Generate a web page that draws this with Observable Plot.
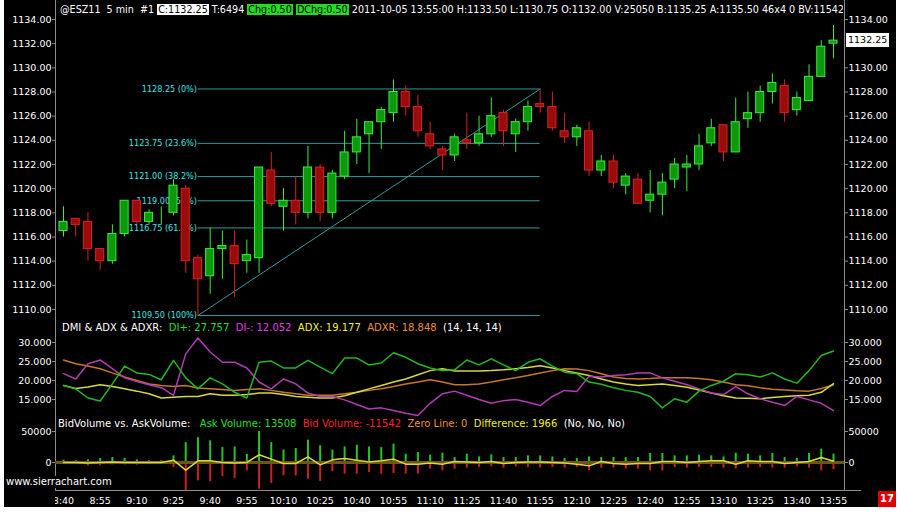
<!DOCTYPE html>
<html><head><meta charset="utf-8">
<script src="https://cdn.jsdelivr.net/npm/d3@7"></script>
<script src="https://cdn.jsdelivr.net/npm/@observablehq/plot@0.6"></script>
<style>
html,body{margin:0;padding:0;background:#fff;}
#wrap{position:relative;width:900px;height:514px;background:#fff;overflow:hidden;font-family:'DejaVu Sans',Verdana,sans-serif;}
#bg{position:absolute;left:4px;top:0;width:892px;height:507px;background:#000;}
.txt{position:absolute;white-space:pre;font-size:10px;line-height:12px;color:#fff;}
.box{padding:0 1px;}
</style></head>
<body><div id="wrap"><div id="bg"></div></div>
<script>
// ---------- data ----------
const tickLabels = ["8:40","8:55","9:10","9:25","9:40","9:55","10:10","10:25","10:40","10:55","11:10","11:25","11:40","11:55","12:10","12:25","12:40","12:55","13:10","13:25","13:40","13:55"];
const barsPerTick = 3;

const open  = [1116.5,1117.5,1117.25,1115.0,1114.0,1116.25,1119.0,1117.25,1118.0,1118.0,
               1120.0,1114.25,1112.75,1115.0,1115.25,1114.0,1114.25,1121.5,1118.5,1119.0,
               1118.0,1121.75,1118.0,1121.0,1123.0,1124.5,1125.5,1126.25,1128.0,1126.75,
               1124.5,1123.25,1122.75,1124.0,1123.75,1124.5,1126.25,1124.5,1125.5,1127.0,
               1126.75,1124.75,1124.25,1124.75,1121.5,1122.25,1120.25,1120.75,1119.0,1119.5,
               1120.75,1121.75,1122.0,1123.75,1125.25,1123.0,1125.75,1126.25,1128.0,1128.5,
               1126.5,1127.25,1129.25,1132.0];
const high  = [1118.5,1117.5,1118.0,1115.0,1117.0,1119.0,1119.0,1118.25,1118.5,1120.75,
               1120.25,1114.5,1116.75,1116.5,1116.5,1115.75,1121.75,1123.0,1120.0,1121.0,
               1123.5,1122.0,1121.5,1124.75,1125.75,1125.5,1126.75,1129.0,1128.5,1127.75,
               1125.5,1123.5,1124.5,1126.25,1126.0,1127.5,1126.5,1125.75,1127.25,1128.25,
               1128.0,1126.25,1125.25,1125.5,1122.75,1122.75,1121.25,1121.25,1121.5,1121.25,
               1122.5,1122.75,1124.5,1125.75,1125.25,1127.5,1128.0,1128.5,1129.5,1129.0,
               1128.0,1130.25,1132.25,1133.5];
const low   = [1116.0,1116.0,1114.0,1113.25,1113.75,1116.0,1117.0,1117.0,1117.0,1117.75,
               1113.0,1109.5,1111.25,1112.5,1111.0,1113.0,1113.0,1118.5,1116.5,1117.0,
               1117.5,1117.25,1117.5,1120.75,1122.0,1121.25,1123.25,1125.5,1126.0,1124.25,
               1123.25,1121.5,1122.25,1123.25,1123.5,1124.25,1123.5,1123.0,1124.75,1126.25,
               1124.75,1123.75,1123.5,1121.0,1121.0,1120.0,1119.5,1118.75,1118.0,1117.75,
               1120.0,1119.75,1121.5,1123.5,1122.25,1123.0,1125.0,1125.5,1127.0,1125.5,
               1126.0,1127.25,1129.25,1130.75];
const close = [1117.25,1117.0,1115.0,1114.0,1116.25,1119.0,1117.25,1118.0,1118.0,1120.25,
               1114.0,1112.5,1115.0,1115.25,1113.75,1114.5,1121.75,1118.75,1119.0,1118.0,
               1121.75,1118.0,1121.25,1123.0,1124.25,1125.5,1126.5,1128.0,1126.75,1124.75,
               1123.5,1122.75,1124.25,1123.75,1124.5,1126.0,1124.75,1125.5,1126.75,1126.75,
               1125.0,1124.25,1125.0,1121.5,1122.25,1120.5,1121.0,1118.75,1119.5,1120.5,
               1122.0,1122.0,1123.5,1125.0,1123.0,1125.5,1126.25,1128.0,1128.75,1126.25,
               1127.5,1129.25,1131.75,1132.25];

const fibLevels = [1128.25,1123.75,1121.00,1119.00,1116.75,1109.50];
const fibPercents = ["0%","23.6%","38.2%","50%","61.8%","100%"];
const fibFromBar = 11, fibToBar = 39;
const priceTicks = [1110,1112,1114,1116,1118,1120,1122,1124,1126,1128,1130,1132,1134];
const lastPrice = 1132.25;

const diPlus  = [18.7,17.8,15.4,14.6,19.1,23.8,22.0,21.6,20.2,25.3,20.7,17.8,20.7,19.1,16.9,15.4,24.8,25.1,23.3,23.3,
                 25.3,23.5,21.8,25.9,25.9,24.1,24.6,27.3,26.1,24.4,23.3,22.6,22.8,25.4,24.1,25.7,24.1,22.6,24.8,25.7,
                 23.8,22.2,21.8,19.6,19.0,18.1,17.4,16.9,15.8,12.8,15.2,14.3,17.2,18.7,19.8,21.8,21.5,20.9,22.0,20.4,
                 19.3,22.6,26.6,27.757];
const diMinus = [21.8,20.4,24.4,25.4,23.1,20.7,19.7,18.9,18.1,16.1,27.0,31.2,27.5,24.8,24.8,23.3,19.6,17.8,20.4,19.1,
                 16.7,15.8,15.8,14.9,13.7,12.5,12.8,12.1,11.4,10.8,14.0,16.5,17.2,16.1,15.0,14.0,14.7,15.0,14.3,13.4,
                 15.8,17.4,17.1,21.1,20.9,21.3,21.5,22.0,22.0,20.7,19.8,18.9,17.8,16.7,16.3,18.4,16.5,15.2,14.3,13.4,
                 15.8,14.9,14.0,12.052];
const adx     = [18.7,17.9,18.3,18.9,18.4,17.8,17.2,16.5,15.4,15.6,15.8,15.8,16.5,16.1,16.1,16.3,16.7,16.7,16.3,15.8,
                 15.6,15.4,15.4,16.0,16.9,17.8,18.7,19.6,20.4,21.5,22.6,23.1,22.5,22.5,22.5,22.6,22.8,23.1,23.4,23.9,
                 23.3,22.6,22.0,21.3,20.4,19.6,19.1,18.7,18.9,19.1,18.7,18.2,17.5,16.7,16.0,15.4,15.3,15.2,15.5,15.8,
                 16.0,16.1,16.9,19.177];
const adxr    = [25.4,24.4,23.8,23.1,22.0,20.9,20.0,19.1,18.7,18.4,18.7,18.0,17.8,17.6,17.4,17.6,17.8,17.4,16.9,16.5,
                 16.1,16.1,16.1,16.5,16.9,17.4,17.8,18.4,19.1,19.6,20.2,19.6,18.9,18.9,19.1,19.6,20.2,20.7,21.3,22.0,
                 22.6,23.1,23.0,22.6,21.8,20.9,20.5,20.4,20.5,20.7,20.7,20.7,20.5,20.2,19.6,18.9,18.6,18.1,17.7,17.5,
                 17.3,17.2,17.9,18.848];
const dmiTicks = [15,20,25,30];

const askVol  = [3800,2700,4300,6500,8000,6500,4300,2700,2700,10700,32000,40000,35000,24000,25000,13000,50000,32000,20000,22500,
                 36000,27000,20000,25000,28000,25000,24000,29600,13400,16000,12000,15000,8000,13400,9000,12400,8000,8000,10700,10700,
                 9000,6500,6500,9000,8000,8000,8000,8000,14500,14500,10700,10700,11800,10700,9000,15000,13400,10700,14500,8000,
                 6500,14500,21500,13508];
const bidVol  = [-2700,-1600,-5400,-5400,-3800,-3800,-4300,-2700,-2700,-8000,-45700,-29600,-31000,-23000,-25800,-13400,-43000,-33900,-21500,-21500,
                 -26900,-30600,-15000,-18800,-18800,-16000,-18800,-17700,-18800,-18800,-10700,-13400,-10700,-9100,-8000,-7000,-9100,-7000,-8000,-9100,
                 -8000,-9100,-8000,-13400,-9100,-9100,-10700,-10700,-13400,-13400,-8000,-9100,-8000,-8000,-9100,-10700,-9100,-8000,-9100,-9100,
                 -7000,-9100,-13400,-11542];
const diffVol = [0,0,-1000,0,1000,0,0,0,0,3800,-12400,2700,2700,0,-1000,0,12400,5400,-1600,-1600,
                 9000,-3800,4300,6500,3800,1000,2700,5400,-2700,-2700,-1000,-2700,1600,1000,0,1600,-1600,0,1000,1000,
                 0,-1000,-2700,-5400,1600,-1600,-2700,-1600,-1600,1600,1600,0,1600,2700,2700,-2700,2700,1600,1600,-1600,
                 0,1600,8000,1966];
const volTicks = [0,50000];

// ---------- layout ----------
const W = 900, PLOT_L = 55, PLOT_R = 844, X_FIRST = 63, X_LAST = 833;
const N = open.length;
const step = (X_LAST - X_FIRST) / (N - 1);
const xScale = {type:"linear", domain:[(PLOT_L - X_FIRST)/step, (N-1) + (PLOT_R - X_LAST)/step], range:[PLOT_L, PLOT_R], axis:null};
const FONT = "'DejaVu Sans', Verdana, sans-serif";
const NARROW = "'Liberation Sans Narrow','DejaVu Sans Condensed','Arial Narrow',sans-serif";
const AXIS_GRAY = "#8c8c8c";
const UP_FILL = "#0d980d", UP_LINE = "#38ee38", DN_FILL = "#9a0c0c", DN_LINE = "#d82222";

const bars = open.map((o,i) => ({i, o, h: high[i], l: low[i], c: close[i], up: close[i] >= o}));
const idx = d3.range(N);
const wrap = document.getElementById("wrap");

function pane(top, height, y, marks, extra = {}) {
  const svg = Plot.plot({
    width: W, height, marginLeft: PLOT_L, marginRight: W - PLOT_R, marginTop: 0, marginBottom: 0,
    x: xScale, y, color: {type: "identity"},
    style: {background: "transparent", color: "#fff", fontFamily: FONT, fontSize: "9.5px", overflow: "visible"},
    marks, ...extra
  });
  svg.style.position = "absolute"; svg.style.left = "0px"; svg.style.top = top + "px";
  wrap.appendChild(svg);
  return svg;
}
function axes(ticks, fmt, rightTicks = ticks) {
  return [
    Plot.axisY(ticks, {anchor: "left", tickSize: 3, tickPadding: 1, tickFormat: fmt, stroke: AXIS_GRAY, fill: "#fff"}),
    Plot.axisY(rightTicks, {anchor: "right", tickSize: 3, tickPadding: 1, tickFormat: fmt, stroke: AXIS_GRAY, fill: "#fff"}),
    Plot.frame({anchor: "left", stroke: AXIS_GRAY}),
    Plot.frame({anchor: "right", stroke: AXIS_GRAY})
  ];
}

// ---------- price pane ----------
const rightPriceTicks = priceTicks.filter(t => Math.abs(t - lastPrice) > 1);
const priceSvg = pane(0, 320, {domain: [1110, 1134], range: [309, 19]}, [
  ...axes(priceTicks, d => d.toFixed(2), rightPriceTicks),
  Plot.ruleY(fibLevels, {y: d => d, x1: () => fibFromBar, x2: () => fibToBar, stroke: "#2f9c9c"}),
  Plot.link([0], {x1: () => fibFromBar, y1: () => fibLevels[fibLevels.length-1], x2: () => fibToBar, y2: () => fibLevels[0], stroke: "#2f9c9c"}),
  Plot.text(fibLevels, {x: () => fibFromBar, y: d => d, text: (d,i) => `${d.toFixed(2)} (${fibPercents[i]})`,
    textAnchor: "end", dx: -1, fill: "#40e4e4", fontSize: 9, fontFamily: NARROW}),
  Plot.ruleX(bars, {x: "i", y1: "l", y2: "h", stroke: d => d.up ? UP_LINE : DN_LINE}),
  Plot.rect(bars, {x1: d => d.i - 0.33, x2: d => d.i + 0.33, y1: "o", y2: "c",
    fill: d => d.up ? UP_FILL : DN_FILL, stroke: d => d.up ? UP_LINE : DN_LINE})
]);

// ---------- DMI pane ----------
pane(320, 95, {domain: [15, 30], range: [79, 22]}, [
  ...axes(dmiTicks, d => d.toFixed(3)),
  Plot.line(idx, {x: d => d, y: d => adxr[d], stroke: "#c47828"}),
  Plot.line(idx, {x: d => d, y: d => adx[d], stroke: "#d8d840"}),
  Plot.line(idx, {x: d => d, y: d => diMinus[d], stroke: "#b23cb2"}),
  Plot.line(idx, {x: d => d, y: d => diPlus[d], stroke: "#22b822"})
]);

// ---------- volume pane ----------
pane(415, 75, {domain: [0, 50000], range: [47, 16]}, [
  ...axes(volTicks, d => String(d)),
  Plot.ruleX(idx, {x: d => d, y1: () => 0, y2: d => askVol[d], stroke: "#22c822", strokeWidth: 2}),
  Plot.ruleX(idx, {x: d => d, y1: () => 0, y2: d => bidVol[d], stroke: "#cc2020", strokeWidth: 2}),
  Plot.ruleY([0], {stroke: "#6e5416", strokeWidth: 3}),
  Plot.line(idx, {x: d => d, y: d => diffVol[d], stroke: "#e0d838"})
]);

// ---------- time axis ----------
pane(490, 17, undefined, [
  Plot.frame({anchor: "top", stroke: AXIS_GRAY}),
  Plot.text(tickLabels, {x: (d,i) => i * barsPerTick, text: d => d, fill: "#fff", dy: 1.5, clip: true})
], {marginRight: 40});

// ---------- html texts ----------
function addText(left, top, html, extraStyle = "") {
  const d = document.createElement("div");
  d.className = "txt"; d.style.left = left + "px"; d.style.top = top + "px";
  d.style.cssText += extraStyle; d.innerHTML = html; wrap.appendChild(d); return d;
}
addText(60, 4,
  `@ESZ11  5 min  #1 <span class="box" style="background:#fff;color:#000">C:1132.25</span> T:6494 <span class="box" style="background:#22dd22;color:#000">Chg:0.50</span> <span class="box" style="background:#22dd22;color:#000">DChg:0.50</span> 2011-10-05 13:55:00 H:1133.50 L:1130.75 O:1132.00 V:25050 B:1135.25 A:1135.50 46x4 0 BV:11542`,
  "width:783px;overflow:hidden;font-size:9.6px;");
addText(62, 322,
  `DMI &amp; ADX &amp; ADXR:  <span style="color:#22e022">DI+: 27.757</span>  <span style="color:#e040e0">DI-: 12.052</span>  <span style="color:#f0f040">ADX: 19.177</span>  <span style="color:#f09030">ADXR: 18.848</span>  (14, 14, 14)`);
addText(58, 418,
  `BidVolume vs. AskVolume:   <span style="color:#22e022">Ask Volume: 13508</span>  <span style="color:#ff2020">Bid Volume: -11542</span>  <span style="color:#f09020">Zero Line: 0</span>  <span style="color:#f0f020">Difference: 1966</span>  (No, No, No)`);
addText(6, 476, `www.sierrachart.com`, "background:#000;padding-right:2px;");

const yPx = priceSvg.scale("y").apply(lastPrice);
addText(846, yPx - 7, lastPrice.toFixed(2), "background:#fff;color:#000;font-size:9.5px;line-height:14px;padding:0 2px;");
addText(878, 491, "17", "background:#e00000;color:#fff;width:18px;height:16px;line-height:16px;text-align:center;font-weight:bold;");
</script>
</body></html>
